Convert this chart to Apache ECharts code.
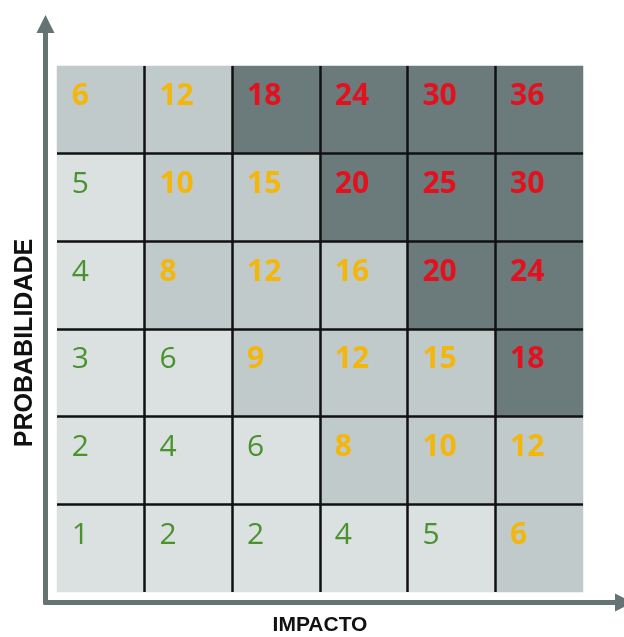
<!DOCTYPE html>
<html>
<head>
<meta charset="utf-8">
<script src="https://cdn.jsdelivr.net/npm/echarts@6/dist/echarts.min.js"></script>
<style>
  html, body { margin: 0; padding: 0; background: #ffffff; }
  #chart { width: 624px; height: 637px; }
</style>
</head>
<body>
<div id="chart"></div>
<script>
// Impact (columns, left to right) and probability (rows, bottom to top)
const impactCats = ['1', '2', '3', '4', '5', '6'];
const probCats = ['1', '2', '3', '4', '5', '6'];

// Risk score for each cell, one row per probability level (bottom row first)
const scores = [
  [1, 2, 2, 4, 5, 6],
  [2, 4, 6, 8, 10, 12],
  [3, 6, 9, 12, 15, 18],
  [4, 8, 12, 16, 20, 24],
  [5, 10, 15, 20, 25, 30],
  [6, 12, 18, 24, 30, 36]
];

// Risk level of each cell: L = low, M = medium, H = high
const levels = [
  ['L', 'L', 'L', 'L', 'L', 'M'],
  ['L', 'L', 'L', 'M', 'M', 'M'],
  ['L', 'L', 'M', 'M', 'M', 'H'],
  ['L', 'M', 'M', 'M', 'H', 'H'],
  ['L', 'M', 'M', 'H', 'H', 'H'],
  ['M', 'M', 'H', 'H', 'H', 'H']
];

const cellFill = { L: '#dbe1e1', M: '#c1caca', H: '#6b7b7c' };
const textColor = { L: '#4a922e', M: '#f3b60c', H: '#e3101e' };
const textWeight = { L: 500, M: 'bold', H: 'bold' };

const cells = [];
scores.forEach(function (row, yi) {
  row.forEach(function (v, xi) {
    const lv = levels[yi][xi];
    cells.push({
      value: [xi, yi, v],
      itemStyle: { color: cellFill[lv] },
      label: { color: textColor[lv], fontWeight: textWeight[lv] }
    });
  });
});

const arrowLine = {
  show: true,
  onZero: false,
  symbol: ['none', 'triangle'],
  symbolSize: [18, 18],
  lineStyle: { color: '#647474', width: 5 }
};

const cellDivider = {
  show: true,
  interval: 0,
  showMinLine: false,
  showMaxLine: false,
  lineStyle: { color: '#111111', width: 2.5 }
};

const axisTitle = {
  color: '#111111',
  fontFamily: 'Liberation Sans',
  fontWeight: 'bold'
};

const option = {
  animation: false,
  backgroundColor: '#ffffff',
  grid: [
    { left: 57, right: 41, top: 66, bottom: 45, outerBoundsMode: 'none' },
    { left: 45.5, right: 0, top: 24, bottom: 34.5, outerBoundsMode: 'none' }
  ],
  xAxis: [
    {
      type: 'category', gridIndex: 0, data: impactCats, z: 3,
      axisLine: { show: false }, axisTick: { show: false }, axisLabel: { show: false },
      splitLine: cellDivider,
      name: 'IMPACTO', nameLocation: 'middle', nameGap: 23,
      nameTextStyle: Object.assign({ fontSize: 21 }, axisTitle)
    },
    {
      type: 'value', gridIndex: 1, min: 0, max: 1,
      axisLine: arrowLine, axisTick: { show: false }, axisLabel: { show: false },
      splitLine: { show: false }
    }
  ],
  yAxis: [
    {
      type: 'category', gridIndex: 0, data: probCats, z: 3,
      axisLine: { show: false }, axisTick: { show: false }, axisLabel: { show: false },
      splitLine: cellDivider,
      name: 'PROBABILIDADE', nameLocation: 'middle', nameGap: 19.5,
      nameTextStyle: Object.assign({ fontSize: 25, padding: [0, 28, 0, 0] }, axisTitle)
    },
    {
      type: 'value', gridIndex: 1, min: 0, max: 1,
      axisLine: arrowLine, axisTick: { show: false }, axisLabel: { show: false },
      splitLine: { show: false }
    }
  ],
  series: [
    {
      type: 'heatmap',
      xAxisIndex: 0,
      yAxisIndex: 0,
      data: cells,
      label: {
        show: true,
        position: [15, 31],
        align: 'left',
        verticalAlign: 'middle',
        fontFamily: 'Open Sans',
        fontSize: 30,
        formatter: function (p) { return p.value[2]; }
      },
      emphasis: { disabled: true }
    }
  ]
};

const chart = echarts.init(document.getElementById('chart'), null, { renderer: 'canvas' });
chart.setOption(option);
</script>
</body>
</html>
